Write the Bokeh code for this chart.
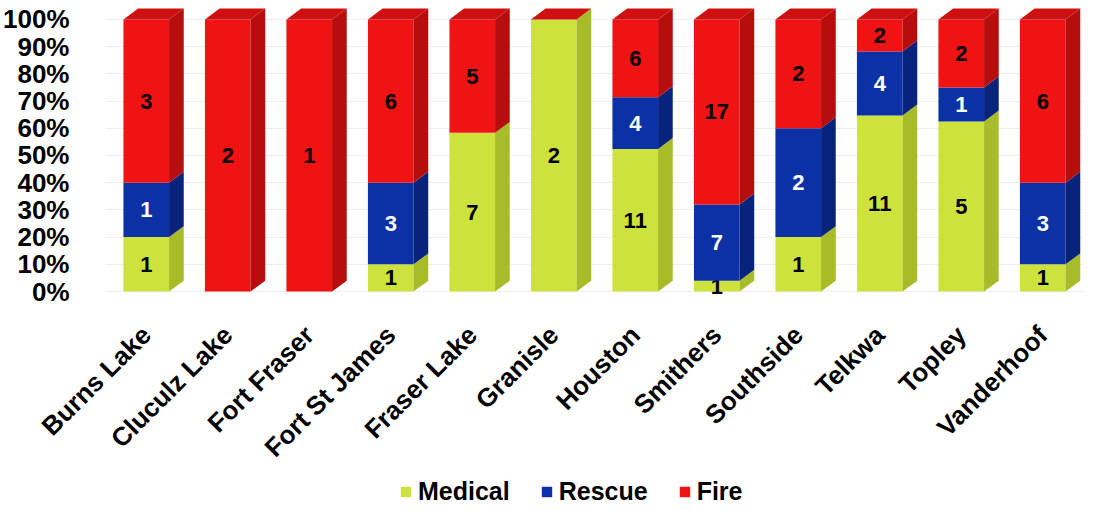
import numpy as np
from bokeh.plotting import figure
from bokeh.layouts import column
from bokeh.models import ColumnDataSource, FixedTicker, Legend, LegendItem, Range1d
from bokeh.embed import file_html
from bokeh.resources import INLINE
from bokeh.core.properties import value

# ---- data ----
towns = ["Burns Lake", "Cluculz Lake", "Fort Fraser", "Fort St James", "Fraser Lake",
         "Granisle", "Houston", "Smithers", "Southside", "Telkwa", "Topley", "Vanderhoof"]
medical = [1, 0, 0, 1, 7, 2, 11, 1, 1, 11, 5, 1]
rescue = [1, 0, 0, 3, 0, 0, 4, 7, 2, 4, 1, 3]
fire = [3, 2, 1, 6, 5, 0, 6, 17, 2, 2, 2, 6]
series_names = ["Medical", "Rescue", "Fire"]
y_ticks = [0, 10, 20, 30, 40, 50, 60, 70, 80, 90, 100]
y_tick_labels = ["0%", "10%", "20%", "30%", "40%", "50%", "60%", "70%", "80%", "90%", "100%"]

# ---- style ----
front_colors = ["#cde23c", "#0b31a5", "#ef1313"]
side_colors = ["#a8bc2a", "#07237c", "#b60d0d"]
top_color = "#cf1010"
label_colors = ["black", "white", "black"]
FONT = "Liberation Sans"
W = 0.56      # bar front width (x units)
DX = 0.18     # depth offset x (x units)
DY = 4.0      # depth offset y (percent units)

series = [medical, rescue, fire]
n = len(towns)
xs = np.arange(n, dtype=float)
totals = np.array([m + r + f for m, r, f in zip(medical, rescue, fire)], dtype=float)

p = figure(width=1085, height=476,
           x_range=Range1d(-0.5, 11.5), y_range=Range1d(-1.83, 104.74),
           output_backend="svg", toolbar_location=None,
           min_border_left=98, min_border_right=2, min_border_top=6, min_border_bottom=178)
p.outline_line_color = None
p.background_fill_color = "white"
p.xgrid.grid_line_color = None
p.ygrid.grid_line_color = "#eeeeee"
p.ygrid.ticker = FixedTicker(ticks=y_ticks)

bottom = np.zeros(n)
for si, (name, vals) in enumerate(zip(series_names, series)):
    pct = np.array(vals, dtype=float) / totals * 100.0
    top = bottom + pct
    mask = pct > 0
    src = ColumnDataSource(dict(
        left=xs[mask] - W / 2, right=xs[mask] + W / 2,
        bottom=bottom[mask], top=top[mask],
        xc=xs[mask], yc=(bottom[mask] + top[mask]) / 2,
        lab=[str(v) for v, m in zip(vals, mask) if m],
    ))
    p.quad(left="left", right="right", bottom="bottom", top="top", source=src,
           fill_color=front_colors[si], line_color=None)
    side_xs, side_ys = [], []
    for i in np.where(mask)[0]:
        xr = xs[i] + W / 2
        side_xs.append([xr, xr + DX, xr + DX, xr])
        side_ys.append([bottom[i], bottom[i] + DY, top[i] + DY, top[i]])
    p.patches(side_xs, side_ys, fill_color=side_colors[si], line_color=None)
    p.text(x="xc", y="yc", text="lab", source=src, text_align="center",
           text_baseline="middle", text_font=value(FONT), text_font_style="bold",
           text_font_size="22px", text_color=label_colors[si])
    bottom = top

# top faces (always drawn in the last series' colour, as in the original)
top_xs, top_ys = [], []
for i in range(n):
    xl, xr = xs[i] - W / 2, xs[i] + W / 2
    top_xs.append([xl, xl + DX, xr + DX, xr])
    top_ys.append([100, 100 + DY, 100 + DY, 100])
p.patches(top_xs, top_ys, fill_color=top_color, line_color=None)

# axes
p.yaxis.ticker = FixedTicker(ticks=y_ticks)
p.yaxis.major_label_overrides = {t: l for t, l in zip(y_ticks, y_tick_labels)}
p.xaxis.ticker = FixedTicker(ticks=list(range(n)))
p.xaxis.major_label_overrides = {i: t for i, t in enumerate(towns)}
p.xaxis.major_label_orientation = np.pi / 4
for ax in (p.xaxis, p.yaxis):
    ax.axis_line_color = None
    ax.major_tick_line_color = None
    ax.minor_tick_line_color = None
    ax.major_label_text_font = FONT
    ax.major_label_text_font_style = "bold"
    ax.major_label_text_color = "black"
p.yaxis.major_label_text_font_size = "26px"
p.xaxis.major_label_text_font_size = "26px"
p.yaxis.major_label_standoff = 30
p.xaxis.major_label_standoff = 28

# ---- legend strip (separate small figure below the chart) ----
lg = figure(width=1085, height=30, x_range=Range1d(0, 1), y_range=Range1d(0, 1),
            output_backend="svg", toolbar_location=None,
            min_border_left=98, min_border_right=2, min_border_top=0, min_border_bottom=0)
lg.axis.visible = False
lg.grid.visible = False
lg.outline_line_color = None
items = []
for si, name in enumerate(series_names):
    swatch = ColumnDataSource(dict(left=[np.nan], right=[np.nan], bottom=[np.nan], top=[np.nan]))
    r = lg.quad(left="left", right="right", bottom="bottom", top="top", source=swatch,
                fill_color=front_colors[si], line_color=None)
    items.append(LegendItem(label=name, renderers=[r]))
legend = Legend(items=items, orientation="horizontal", location=(294, 0),
                glyph_width=13, glyph_height=13, label_text_font=FONT,
                label_text_font_style="bold", label_text_font_size="25px",
                label_text_color="black",
                label_standoff=6, spacing=30, border_line_color=None,
                background_fill_alpha=0, padding=0, margin=0)
lg.add_layout(legend, "center")

layout = column(p, lg, spacing=0)
open("out.html", "w").write(file_html(layout, INLINE))
